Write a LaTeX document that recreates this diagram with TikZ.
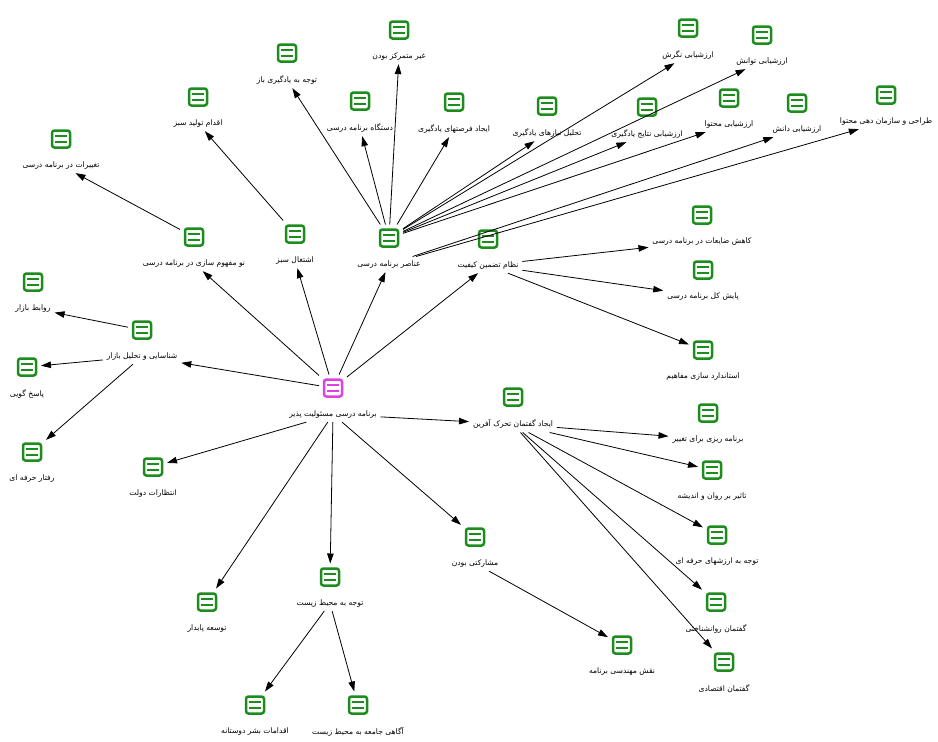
\documentclass[tikz,border=0pt]{standalone}
\usepackage{fontspec}
\newfontfamily\arabicfont[Script=Arabic]{DejaVu Sans}
\TeXXeTstate=1
\usepackage{xcolor}
\usepackage{tikz}
\usetikzlibrary{positioning, arrows.meta}
\definecolor{verde}{RGB}{28,140,28}
\definecolor{rosa}{RGB}{224,64,224}

\begin{document}
\begin{tikzpicture}[x=1pt, y=-1pt,
    icono/.style={draw=#1, line width=2.5pt, rounded corners=2.5pt, fill=white,
      minimum width=18pt, minimum height=17pt, inner sep=0pt, outer sep=5pt,
      path picture={\draw[#1, line width=2.2pt, sharp corners]
        ([xshift=-6pt, yshift=3pt]path picture bounding box.center) -- ++(12pt,0pt)
        ([xshift=-6pt, yshift=-3pt]path picture bounding box.center) -- ++(12pt,0pt);}},
    icono/.default=verde,
    etiqueta/.style={font=\arabicfont\fontsize{7.6}{9}\selectfont, inner sep=1pt, outer sep=3pt},
    flecha/.style={-{Triangle[length=10pt, width=6.5pt]}, line width=0.8pt}]
    \useasboundingbox (0,0) rectangle (938,742);
    % Nodo central
        \node[icono=rosa] (ctr-i) at (333,388) {};
        \node[etiqueta, below=5pt of ctr-i] (ctr) {\beginR برنامه درسی مسئولیت پذیر\endR};
    % Conceptos: nombre/x/y/texto
        \foreach \n/\x/\y/\t in {
            shn/142/330/شناسایی و تحلیل بازار, rel/33/282/روابط بازار,
            pas/27/367/پاسخ گویی, raf/32/452/رفتار حرفه ای,
            ent/153/467/انتظارات دولت, now/194/237/نو مفهوم سازی در برنامه درسی,
            tag/61/139/تغییرات در برنامه درسی, esh/295/234/اشتغال سبز,
            eqd/198/97/اقدام تولید سبز, ana/389/238/عناصر برنامه درسی,
            yad/287/53/توجه به یادگیری باز, gha/399/30/غیر متمرکز بودن,
            das/360/101/دستگاه برنامه درسی, far/454/102/ایجاد فرصتهای یادگیری,
            tah/547/106/تحلیل نیازهای یادگیری, nat/647/107/ارزشیابی نتایج یادگیری,
            neg/688/28/ارزشیابی نگرش, tav/762/35/ارزشیابی توانش,
            moh/729/98/ارزشیابی محتوا, dan/797/103/ارزشیابی دانش,
            tar/886/95/طراحی و سازمان دهی محتوا, nez/488/239/نظام تضمین کیفیت,
            kah/702/215/کاهش ضایعات در برنامه درسی, pay/703/270/پایش کل برنامه درسی,
            est/703/350/استاندارد سازی مفاهیم, goft/513/397/ایجاد گفتمان تحرک آفرین,
            bar/708/413/برنامه ریزی برای تغییر, tas/712/470/تاثیر بر روان و اندیشه,
            arz/717/535/توجه به ارزشهای حرفه ای, rav/716/602/گفتمان روانشناختی,
            eqt/724/662/گفتمان اقتصادی, mos/475/537/مشارکتی بودن,
            mhn/622/645/نقش مهندسی برنامه, mhz/330/577/توجه به محیط زیست,
            tos/207/602/توسعه پایدار, bas/255/705/اقدامات بشر دوستانه,
            aga/358/705/آگاهی جامعه به محیط زیست} {
                \node[icono] (\n-i) at (\x,\y) {};
                \node[etiqueta, below=5pt of \n-i] (\n) {\beginR\t\endR};
            }
    % Flechas entre conceptos
        \foreach \a/\b in {ctr-i/shn, ctr-i/now, ctr-i/esh, ctr-i/ana, ctr-i/nez,
            ctr/goft, ctr/mos-i, ctr/mhz-i, ctr/tos-i, ctr/ent-i,
            shn-i/rel, shn/pas-i, shn/raf-i, now-i/tag, esh-i/eqd,
            ana-i/yad, ana-i/das, ana-i/gha, ana-i/far, ana-i/tah, ana-i/neg,
            ana-i/nat, ana-i/tav, ana-i/moh, ana/dan, ana/tar,
            nez/kah, nez/pay, nez/est-i,
            goft/bar, goft/tas-i, goft/arz-i, goft/rav-i, goft/eqt-i,
            mos/mhn-i, mhz/bas-i, mhz/aga-i} {
                \draw[flecha] (\a) -- (\b);
            }
\end{tikzpicture}
\end{document}
